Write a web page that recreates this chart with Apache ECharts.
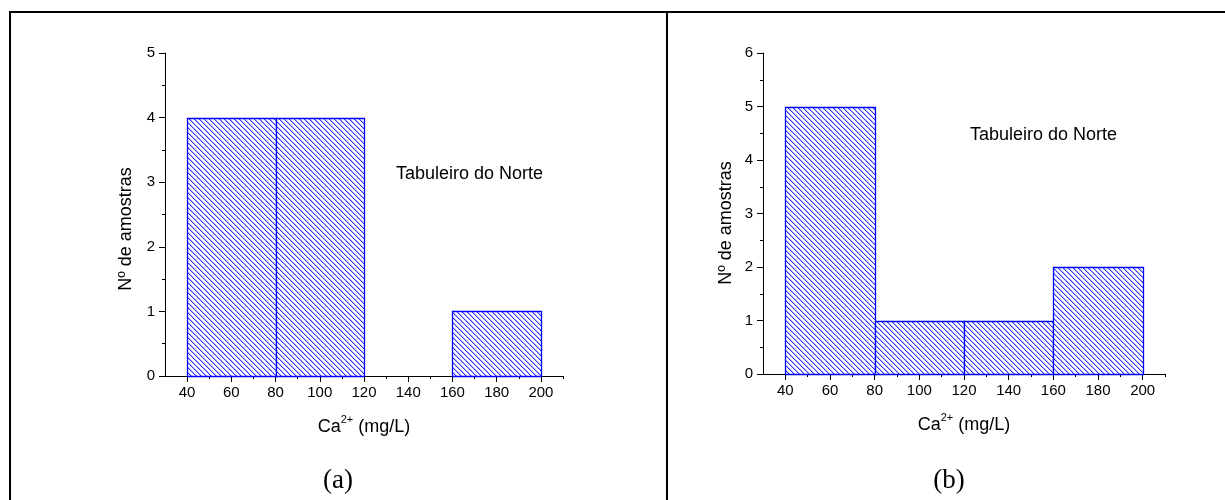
<!DOCTYPE html>
<html><head><meta charset="utf-8">
<script src="https://cdn.jsdelivr.net/npm/echarts@6/dist/echarts.min.js"></script>
<style>html,body{margin:0;padding:0;background:#fff}#c{width:1225px;height:500px}</style>
</head><body><div id="c"></div>
<script>
// ---- data ----
const binStartA = [40, 80, 160];
const binEndA   = [80, 120, 200];
const countA    = [4, 4, 1];
const binStartB = [40, 80, 120, 160];
const binEndB   = [80, 120, 160, 200];
const countB    = [5, 1, 1, 2];
const xMajorTicks = [40, 60, 80, 100, 120, 140, 160, 180, 200];
const xMinorTicks = [50, 70, 90, 110, 130, 150, 170, 190, 210];
const xMin = 30, xMax = 210;
const yMaxA = 5, yMaxB = 6;
const yTitle = 'Nº de amostras';
const noteText = 'Tabuleiro do Norte';
const panelLabels = ['(a)', '(b)'];

// ---- hatch pattern ----
const P = 5;
const pc = document.createElement('canvas');
pc.width = P; pc.height = P;
const g = pc.getContext('2d');
g.fillStyle = '#ffffff'; g.fillRect(0, 0, P, P);
for (let i = 0; i < P; i++) {
  g.fillStyle = 'rgb(50,50,255)'; g.fillRect(i, i, 1, 1);
  g.fillStyle = 'rgb(175,175,255)'; g.fillRect((i + 1) % P, i, 1, 1);
}
const hatch = { image: pc, repeat: 'repeat' };

const SANS = 'Liberation Sans';
function mkData(s, e, c) { return s.map((v, i) => [v, e[i], c[i]]); }
function renderBar(params, api) {
  const p0 = api.coord([api.value(0), api.value(2)]);
  const p1 = api.coord([api.value(1), 0]);
  const x0 = Math.round(p0[0]) + 0.5, y0 = Math.round(p0[1]) + 0.5;
  const x1 = Math.round(p1[0]) + 0.5, y1 = Math.round(p1[1]) + 0.5;
  return { type: 'rect', shape: { x: x0, y: y0, width: x1 - x0, height: y1 - y0 },
    style: { fill: hatch, stroke: '#0000ff', lineWidth: 1.3 } };
}
const axisTextStyle = { color: '#000', fontFamily: SANS, fontSize: 15 };
function xAxes(gi) {
  return [{
    type: 'value', gridIndex: gi, min: xMin, max: xMax, position: 'bottom',
    axisLine: { show: true, onZero: false, lineStyle: { color: '#000', width: 1 } },
    axisTick: { show: true, length: 6, customValues: xMajorTicks, lineStyle: { color: '#000' } },
    axisLabel: Object.assign({ customValues: xMajorTicks, margin: 9 }, axisTextStyle),
    splitLine: { show: false },
    name: '{n|Ca}{s|2+}{n| (mg/L)}', nameLocation: 'middle', nameGap: 38,
    nameTextStyle: { rich: {
      n: { fontFamily: SANS, fontSize: 18, color: '#000', lineHeight: 22, verticalAlign: 'bottom' },
      s: { fontFamily: SANS, fontSize: 11, color: '#000', lineHeight: 11, verticalAlign: 'top' } } }
  }, {
    type: 'value', gridIndex: gi, min: xMin, max: xMax, position: 'bottom',
    axisLine: { show: false },
    axisTick: { show: true, length: 3, customValues: xMinorTicks, lineStyle: { color: '#000' } },
    axisLabel: { show: false }, splitLine: { show: false }
  }];
}
function yAxis(gi, max) {
  return {
    type: 'value', gridIndex: gi, min: 0, max: max, interval: 1,
    axisLine: { show: true, lineStyle: { color: '#000', width: 1 } },
    axisTick: { show: true, length: 6, lineStyle: { color: '#000' } },
    minorTick: { show: true, splitNumber: 2, length: 3, lineStyle: { color: '#000' } },
    axisLabel: Object.assign({ margin: 10 }, axisTextStyle),
    splitLine: { show: false }
  };
}
const chart = echarts.init(document.getElementById('c'), null, { renderer: 'canvas' });
chart.setOption({
  animation: false,
  backgroundColor: '#fff',
  grid: [
    { left: 165, top: 53, width: 398, height: 323 },
    { left: 763, top: 53, width: 402, height: 321 }
  ],
  xAxis: [].concat(xAxes(0), xAxes(1)),
  yAxis: [yAxis(0, yMaxA), yAxis(1, yMaxB)],
  series: [
    { type: 'custom', xAxisIndex: 0, yAxisIndex: 0, renderItem: renderBar,
      encode: { x: [0, 1], y: 2 }, data: mkData(binStartA, binEndA, countA) },
    { type: 'custom', xAxisIndex: 2, yAxisIndex: 1, renderItem: renderBar,
      encode: { x: [0, 1], y: 2 }, data: mkData(binStartB, binEndB, countB) }
  ],
  graphic: [
    { type: 'line', shape: { x1: 10, y1: 12, x2: 1225, y2: 12 }, style: { stroke: '#000', lineWidth: 2 } },
    { type: 'line', shape: { x1: 10, y1: 11, x2: 10, y2: 500 }, style: { stroke: '#000', lineWidth: 2 } },
    { type: 'line', shape: { x1: 667, y1: 11, x2: 667, y2: 500 }, style: { stroke: '#000', lineWidth: 2 } },
    { type: 'text', x: 126, y: 229, rotation: Math.PI / 2,
      style: { text: yTitle, fontFamily: SANS, fontSize: 18, fill: '#000', align: 'center', verticalAlign: 'middle' } },
    { type: 'text', x: 726, y: 223, rotation: Math.PI / 2,
      style: { text: yTitle, fontFamily: SANS, fontSize: 18, fill: '#000', align: 'center', verticalAlign: 'middle' } },
    { type: 'text', x: 396, y: 174,
      style: { text: noteText, fontFamily: SANS, fontSize: 18, fill: '#000', align: 'left', verticalAlign: 'middle' } },
    { type: 'text', x: 970, y: 135,
      style: { text: noteText, fontFamily: SANS, fontSize: 18, fill: '#000', align: 'left', verticalAlign: 'middle' } },
    { type: 'text', x: 338, y: 481,
      style: { text: panelLabels[0], fontFamily: 'Liberation Serif', fontSize: 27, fill: '#000', align: 'center', verticalAlign: 'middle' } },
    { type: 'text', x: 949, y: 481,
      style: { text: panelLabels[1], fontFamily: 'Liberation Serif', fontSize: 27, fill: '#000', align: 'center', verticalAlign: 'middle' } }
  ]
});
</script></body></html>
